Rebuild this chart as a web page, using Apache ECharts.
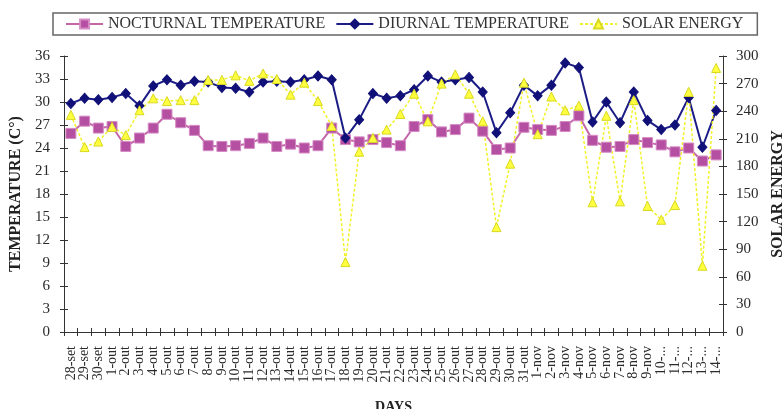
<!DOCTYPE html>
<html>
<head>
<meta charset="utf-8">
<script src="https://cdn.jsdelivr.net/npm/echarts@6/dist/echarts.min.js"></script>
<style>html,body{margin:0;padding:0;background:#fff}#c{width:784px;height:409px}</style>
</head>
<body>
<div id="c"></div>
<script>
var categories = ['28-set','29-set','30-set','1-out','2-out','3-out','4-out','5-out','6-out','7-out','8-out','9-out','10-out','11-out','12-out','13-out','14-out','15-out','16-out','17-out','18-out','19-out','20-out','21-out','22-out','23-out','24-out','25-out','26-out','27-out','28-out','29-out','30-out','31-out','1-nov','2-nov','3-nov','4-nov','5-nov','6-nov','7-nov','8-nov','9-nov','10-...','11-...','12-...','13-...','14-...'];
var nocturnal = [25.9,27.5,26.6,26.8,24.2,25.3,26.6,28.4,27.3,26.3,24.3,24.2,24.3,24.6,25.3,24.2,24.5,24.0,24.3,26.6,25.1,24.8,25.1,24.7,24.3,26.8,27.7,26.1,26.4,27.9,26.2,23.8,24.0,26.7,26.4,26.3,26.8,28.2,25.0,24.1,24.2,25.1,24.7,24.4,23.5,24.0,22.3,23.1];
var diurnal = [29.8,30.5,30.3,30.6,31.1,29.5,32.1,32.9,32.2,32.7,32.6,31.9,31.8,31.3,32.6,32.7,32.6,32.9,33.4,32.9,25.3,27.7,31.1,30.5,30.8,31.6,33.4,32.6,32.9,33.2,31.3,26.0,28.6,32.2,30.8,32.2,35.1,34.5,27.4,30.0,27.3,31.3,27.6,26.4,27.0,30.6,24.1,28.9];
var solar = [236,201,207,223,214,241,254,251,252,252,274,274,279,273,281,275,258,271,251,224,76,196,211,220,237,259,229,270,280,259,229,114,183,271,215,256,241,246,141,235,142,252,137,122,138,261,72,287];
var tempTicks = {min:0, max:36, interval:3};
var solarTicks = {min:0, max:300, interval:30};

var font = 'Liberation Serif';
var axisColor = '#333';
var labelColor = '#2a2a2a';
var tickOut = {show:true, length:4, lineStyle:{color:axisColor}};
var tickIn = {show:true, inside:true, length:4, lineStyle:{color:axisColor}};
var nameStyle = {fontFamily:font, fontSize:16, fontWeight:'bold', color:'#222'};

var chart = echarts.init(document.getElementById('c'));
chart.setOption({
  animation:false,
  backgroundColor:'#fff',
  textStyle:{fontFamily:font},
  legend:{
    left:53, top:13,
    padding:[3,14,3,12],
    borderColor:'#666', borderWidth:1.5,
    itemWidth:37, itemHeight:11, itemGap:10,
    textStyle:{fontFamily:font, fontSize:16, color:'#333'},
    data:['NOCTURNAL TEMPERATURE','DIURNAL TEMPERATURE','SOLAR ENERGY']
  },
  grid:{left:64, right:61, top:56, bottom:77, containLabel:false, outerBoundsMode:'none'},
  xAxis:[{
    type:'category', data:categories, boundaryGap:true,
    name:'DAYS', nameLocation:'middle', nameGap:68,
    nameTextStyle:{fontFamily:font, fontSize:14, fontWeight:'bold', color:'#222'},
    axisLine:{lineStyle:{color:axisColor, width:1}},
    axisTick:Object.assign({interval:0}, tickOut),
    axisLabel:{interval:0, rotate:90, fontFamily:font, fontSize:14, color:labelColor, margin:14}
  },{
    type:'category', data:categories, boundaryGap:true, position:'bottom',
    axisLine:{show:false},
    axisTick:Object.assign({interval:0}, tickIn),
    axisLabel:{show:false}
  }],
  yAxis:[{
    type:'value', min:tempTicks.min, max:tempTicks.max, interval:tempTicks.interval,
    name:'TEMPERATURE (C°)', nameLocation:'middle', nameGap:37, nameRotate:90,
    nameTextStyle:nameStyle,
    axisLine:{show:true, lineStyle:{color:axisColor}},
    axisTick:tickOut,
    splitLine:{show:false},
    axisLabel:{fontFamily:font, fontSize:15, color:labelColor, margin:14}
  },{
    type:'value', position:'right', min:solarTicks.min, max:solarTicks.max, interval:solarTicks.interval,
    name:'SOLAR ENERGY', nameLocation:'middle', nameGap:47, nameRotate:90,
    nameTextStyle:nameStyle,
    axisLine:{show:true, lineStyle:{color:axisColor}},
    axisTick:tickOut,
    splitLine:{show:false},
    axisLabel:{fontFamily:font, fontSize:15, color:labelColor, margin:13}
  },{
    type:'value', position:'left', min:tempTicks.min, max:tempTicks.max, interval:tempTicks.interval,
    axisLine:{show:false}, axisTick:tickIn, axisLabel:{show:false}, splitLine:{show:false}
  },{
    type:'value', position:'right', min:solarTicks.min, max:solarTicks.max, interval:solarTicks.interval,
    axisLine:{show:false}, axisTick:tickIn, axisLabel:{show:false}, splitLine:{show:false}
  }],
  series:[{
    name:'NOCTURNAL TEMPERATURE', type:'line', yAxisIndex:0, data:nocturnal,
    symbol:'rect', symbolSize:10,
    lineStyle:{color:'#C466A8', width:2},
    itemStyle:{color:'#B54FA2', borderColor:'#D58AC4', borderWidth:1}
  },{
    name:'DIURNAL TEMPERATURE', type:'line', yAxisIndex:0, data:diurnal,
    symbol:'diamond', symbolSize:[9,10],
    lineStyle:{color:'#1C1C86', width:2},
    itemStyle:{color:'#101078', borderColor:'#101078', borderWidth:1}
  },{
    name:'SOLAR ENERGY', type:'line', yAxisIndex:1, data:solar,
    symbol:'triangle', symbolSize:9,
    lineStyle:{color:'#F2F22A', width:1.5, type:[3,2]},
    itemStyle:{color:'#FFFF40', borderColor:'#D8D820', borderWidth:1}
  }]
});
</script>
</body>
</html>
